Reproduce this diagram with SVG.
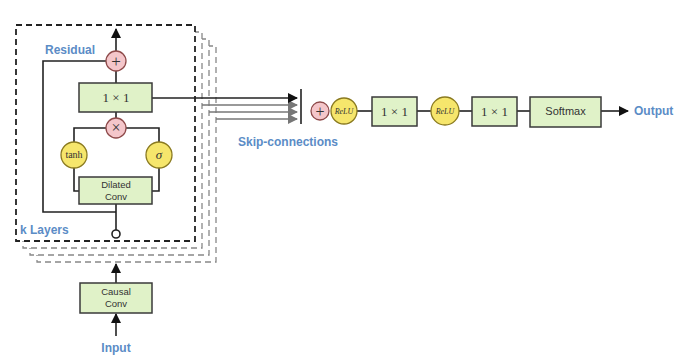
<svg xmlns="http://www.w3.org/2000/svg" width="680" height="356" viewBox="0 0 680 356">
<style>
.box{fill:#e0f2c8;stroke:#3a3a3a;stroke-width:1.5}
.pink{fill:#f4c6ca;stroke:#8e4a4a;stroke-width:1.3}
.yel{fill:#f6e66c;stroke:#8a7a20;stroke-width:1.3}
.ln{fill:none;stroke:#222;stroke-width:1.6}
.gl{fill:none;stroke:#777;stroke-width:1.4}
.serif{font-family:"Liberation Serif",serif;fill:#333}
.sans{font-family:"Liberation Sans",Arial,sans-serif;fill:#333}
.blue{font-family:"Liberation Sans",Arial,sans-serif;fill:#5b8cc6;font-weight:bold;font-size:12px}
.dash{fill:#fff;stroke:#222;stroke-width:1.8;stroke-dasharray:6 4}
.dashb{fill:#fff;stroke:#888;stroke-width:1.3;stroke-dasharray:6 4}
</style>
<defs>
<marker id="ah" markerWidth="10" markerHeight="10" refX="9" refY="5" orient="auto" markerUnits="userSpaceOnUse">
<path d="M0,0 L10,5 L0,10 z" fill="#111"/>
</marker>
<marker id="ahg" markerWidth="10" markerHeight="10" refX="9" refY="5" orient="auto" markerUnits="userSpaceOnUse">
<path d="M0,0 L10,5 L0,10 z" fill="#777"/>
</marker>
</defs>
<rect width="680" height="356" fill="#fff"/>

<g id="layer-stack">
<rect class="dashb" x="37" y="46" width="179" height="216"/>
<rect class="dashb" x="30" y="39" width="179" height="216"/>
<rect class="dashb" x="23" y="32" width="179" height="216"/>
<rect class="dash" x="16" y="25" width="179" height="216"/>
</g>

<g id="connectors">
<line class="ln" x1="116" y1="51" x2="116" y2="29" marker-end="url(#ah)"/>
<polyline class="ln" points="106,61 43,61 43,212 116,212"/>
<line class="ln" x1="116" y1="71" x2="116" y2="83"/>
<line class="ln" x1="116" y1="112" x2="116" y2="118"/>
<polyline class="ln" points="106,128 74,128 74,142"/>
<polyline class="ln" points="126,128 159,128 159,142"/>
<polyline class="ln" points="74,168 74,191 79,191"/>
<polyline class="ln" points="159,168 159,191 152,191"/>
<line class="ln" x1="116" y1="204" x2="116" y2="230"/>
<polyline class="gl" points="216,119 297,119" marker-end="url(#ahg)"/>
<polyline class="gl" points="209,112 297,112" marker-end="url(#ahg)"/>
<polyline class="gl" points="202,105 297,105" marker-end="url(#ahg)"/>
<line class="ln" x1="152" y1="98" x2="297" y2="98" marker-end="url(#ah)"/>
<line class="ln" x1="301" y1="89" x2="301" y2="124"/>
<line class="ln" x1="357" y1="111" x2="372" y2="111"/>
<line class="ln" x1="417" y1="111" x2="431" y2="111"/>
<line class="ln" x1="459" y1="111" x2="472" y2="111"/>
<line class="ln" x1="517" y1="111" x2="530" y2="111"/>
<line class="ln" x1="601" y1="111" x2="628" y2="111" marker-end="url(#ah)"/>
<line class="ln" x1="116" y1="283" x2="116" y2="264" marker-end="url(#ah)"/>
<line class="ln" x1="116" y1="336" x2="116" y2="314" marker-end="url(#ah)"/>
</g>

<g id="open-circle"><circle cx="116" cy="234" r="4" fill="#fff" stroke="#222" stroke-width="1.6"/></g>

<g id="plus-residual">
<circle class="pink" cx="116" cy="61" r="10"/>
<text class="serif" x="116" y="66.5" font-size="17" text-anchor="middle">+</text>
</g>
<g id="conv1x1-layer">
<rect class="box" x="79" y="83" width="73" height="29"/>
<text class="serif" x="116" y="102" font-size="13" text-anchor="middle">1 × 1</text>
</g>
<g id="times">
<circle class="pink" cx="116" cy="128" r="10"/>
<text class="serif" x="116" y="133" font-size="16" text-anchor="middle">×</text>
</g>
<g id="tanh">
<circle class="yel" cx="74" cy="155" r="13"/>
<text class="serif" x="74" y="158" font-size="10" text-anchor="middle">tanh</text>
</g>
<g id="sigma">
<circle class="yel" cx="159" cy="155" r="13"/>
<text class="serif" x="159" y="159" font-size="13" font-style="italic" text-anchor="middle">σ</text>
</g>
<g id="dilated-conv">
<rect class="box" x="79" y="177" width="73" height="27"/>
<text class="sans" x="116" y="188" font-size="9.5" text-anchor="middle">Dilated</text>
<text class="sans" x="116" y="200" font-size="9.5" text-anchor="middle">Conv</text>
</g>
<g id="causal-conv">
<rect class="box" x="80" y="283" width="72" height="30"/>
<text class="sans" x="116" y="295" font-size="9.5" text-anchor="middle">Causal</text>
<text class="sans" x="116" y="307" font-size="9.5" text-anchor="middle">Conv</text>
</g>
<g id="plus-skip">
<circle class="pink" cx="320" cy="111" r="9"/>
<text class="serif" x="320" y="116.5" font-size="16" text-anchor="middle">+</text>
</g>
<g id="relu1">
<circle class="yel" cx="344" cy="111" r="13"/>
<text class="serif" x="344" y="114" font-size="8" font-style="italic" text-anchor="middle">ReLU</text>
</g>
<g id="conv1x1-a">
<rect class="box" x="372" y="97" width="45" height="29"/>
<text class="serif" x="394.5" y="116" font-size="13" text-anchor="middle">1 × 1</text>
</g>
<g id="relu2">
<circle class="yel" cx="445" cy="111" r="14"/>
<text class="serif" x="445" y="114" font-size="8" font-style="italic" text-anchor="middle">ReLU</text>
</g>
<g id="conv1x1-b">
<rect class="box" x="472" y="97" width="45" height="29"/>
<text class="serif" x="494.5" y="116" font-size="13" text-anchor="middle">1 × 1</text>
</g>
<g id="softmax">
<rect class="box" x="530" y="97" width="71" height="30"/>
<text class="sans" x="565.5" y="115" font-size="11" text-anchor="middle">Softmax</text>
</g>

<g id="labels">
<text class="blue" x="45" y="54">Residual</text>
<text class="blue" x="20" y="234">k Layers</text>
<text class="blue" x="238" y="146">Skip-connections</text>
<text class="blue" x="634" y="115">Output</text>
<text class="blue" x="116" y="352" text-anchor="middle" font-weight="normal">Input</text>
</g>
</svg>
